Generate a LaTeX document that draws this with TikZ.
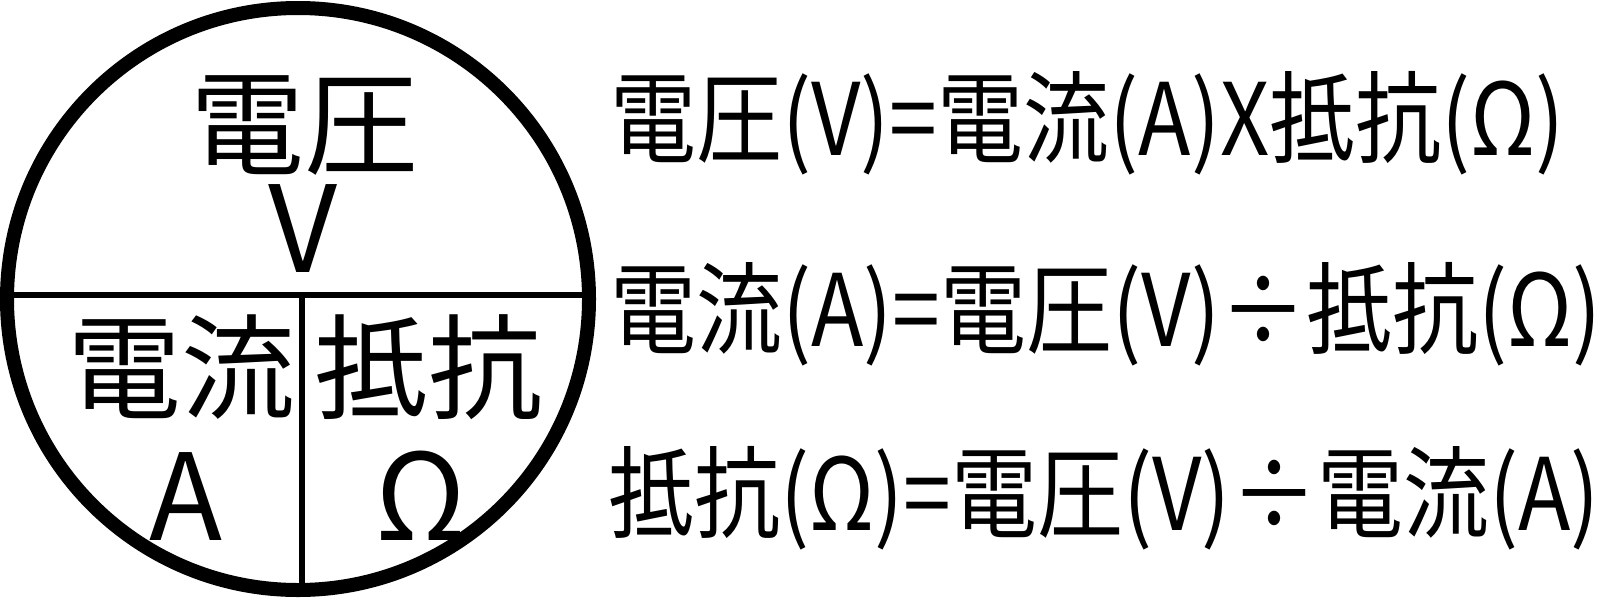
\documentclass[tikz,border=0pt]{standalone}
\usepackage{fontspec}
\newfontfamily\jpfont{Noto Sans CJK JP}
\newfontfamily\jpnarrow[FakeStretch=0.86]{Noto Sans CJK JP}
\tikzset{
  x=0.5pt, y=-0.5pt,
  ring/.style={line width=7pt},
  divider/.style={line width=3pt},
  bigcjk/.style={inner sep=0pt, font=\jpfont\fontsize{57pt}{57pt}\selectfont},
  biglat/.style={inner sep=0pt, font=\jpfont\fontsize{60pt}{60pt}\selectfont},
  eqn/.style={inner sep=0pt, anchor=base west, font=\jpnarrow\fontsize{50pt}{50pt}\selectfont},
}
\begin{document}
\begin{tikzpicture}
\useasboundingbox (0,0) rectangle (1600,600);
\fill[white] (0,0) rectangle (1600,600);
\coordinate (c) at (298,299);
\draw[ring] (c) circle[radius=145.5pt];
\coordinate (hl) at (7,295);
\coordinate (hr) at (589,295);
\coordinate (vt) at (302,295);
\coordinate (vb) at (302,590);
\draw[divider] (hl) -- (hr);
\draw[divider] (vt) -- (vb);
\node[bigcjk, anchor=base] (v1) at (304,166) {電圧};
\node[biglat, anchor=base] (v2) at (303,272) {V};
\node[bigcjk, anchor=base] (a1) at (181,410) {電流};
\node[bigcjk, anchor=base] (r1) at (428,410) {抵抗};
\node[biglat, anchor=base] (a2) at (186,540) {A};
\node[biglat, anchor=base] (r2) at (421,540) {Ω};
\node[eqn] (e1) at (610,155) {電圧(V)=電流(A)X抵抗(Ω)};
\node[eqn] (e2) at (610,346) {電流(A)=電圧(V)÷抵抗(Ω)};
\node[eqn] (e3) at (608,530) {抵抗(Ω)=電圧(V)÷電流(A)};
\end{tikzpicture}
\end{document}
